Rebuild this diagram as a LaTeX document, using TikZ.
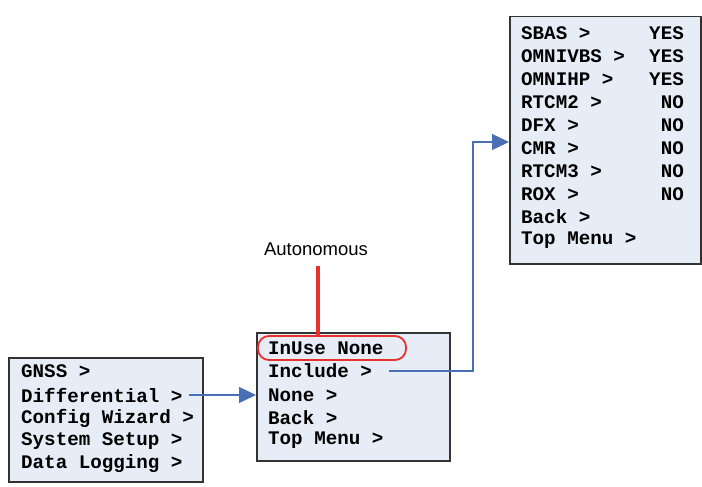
\documentclass[tikz,border=0pt]{standalone}
\usepackage{fontspec}
\setmainfont{Liberation Sans}
\setmonofont{Liberation Mono}
\usetikzlibrary{positioning,arrows.meta}
\definecolor{menufill}{HTML}{E6EDF6}
\definecolor{linkblue}{HTML}{4A6FB5}
\definecolor{markred}{HTML}{E8302C}
\tikzset
{
    menubox/.style = {rectangle, draw=black!80, line width=1.5pt, fill=menufill, anchor=north west, inner sep=0pt},
    item/.style    = {anchor=west, inner sep=0pt, font=\ttfamily\bfseries\fontsize{19.2}{22}\selectfont},
    value/.style   = {anchor=east, inner sep=0pt, font=\ttfamily\bfseries\fontsize{19.2}{22}\selectfont},
    link/.style    = {draw=linkblue, line width=1.2pt, -{Triangle[length=17pt,width=16pt]}},
    note/.style    = {font=\fontsize{18.5}{20}\selectfont, inner sep=0pt}
}

\begin{document}
\begin{tikzpicture}[x=1pt, y=-1pt]
\useasboundingbox (0,0) rectangle (702,487);
% menu boxes
\node[menubox, minimum width=194pt, minimum height=124pt] (top) at (8,357) {};
\node[menubox, minimum width=193pt, minimum height=128pt] (diffmenu) at (256,332) {};
\node[menubox, minimum width=191pt, minimum height=247pt] (corr) at (509,16) {};
% top menu
\node[item] (gnss) at (21,371) {GNSS >};
\node[item] (diff) at (21,395) {Differential >};
\node[item] (wiz)  at (21,418) {Config Wizard >};
\node[item] (sys)  at (21,441) {System Setup >};
\node[item] (log)  at (21,464) {Data Logging >};
% differential menu
\node[item] (inuse) at (268,348) {InUse None};
\node[item] (incl)  at (268,371) {Include >};
\node[item] (none)  at (268,395) {None >};
\node[item] (back)  at (268,418) {Back >};
\node[item] (tmenu) at (268,440) {Top Menu >};
% corrections menu
\foreach \name/\val [count=\i from 0] in {SBAS >/YES, OMNIVBS >/YES, OMNIHP >/YES, RTCM2 >/NO, DFX >/NO, CMR >/NO, RTCM3 >/NO, ROX >/NO}
{
    \node[item] (c\i) at (521,33+23*\i) {\name};
    \node[value] (v\i) at (684,33+23*\i) {\val};
}
\node[item] (cback) at (521,217) {Back >};
\node[item] (ctop)  at (521,240) {Top Menu >};
% autonomous mark
\node[note] (auto) at (316,249) {Autonomous};
\draw[markred, rounded corners=11pt, line width=1.8pt] (258,336) rectangle (406,360);
\coordinate (mark) at (318,336);
\draw[markred, line width=3.5pt] (auto.south -| mark) ++(0,10) -- (mark);
% links
\draw[link] (diff.east) ++(6,0) -- (diff.east -| diffmenu.west);
\draw[link] (incl.east) ++(17,0) -| (473,142) -- (corr.west |- 0,142);
\end{tikzpicture}
\end{document}
